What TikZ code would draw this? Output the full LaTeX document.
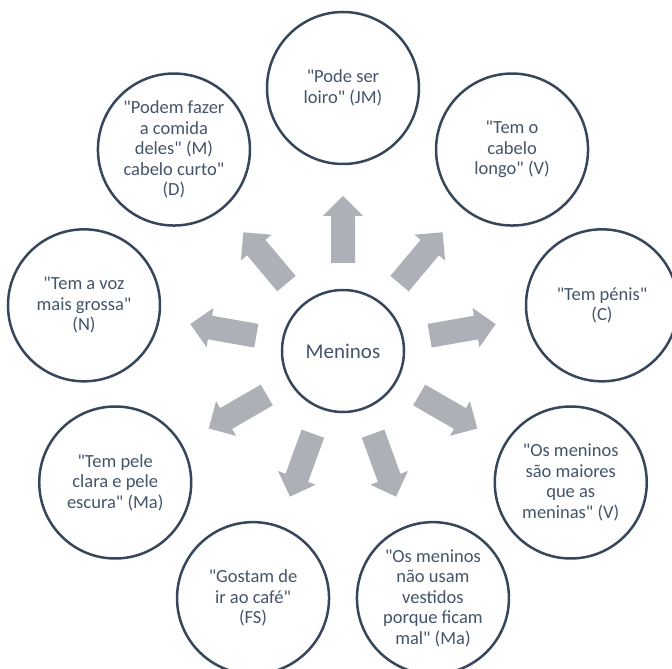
\documentclass[tikz,border=0pt]{standalone}
\usepackage{fontspec}
\setmainfont{Carlito}[Ligatures=TeXOff]

\begin{document}
\begin{tikzpicture}[x=1pt,y=1pt]
  \definecolor{kNavy}{HTML}{36475C}
  \definecolor{kText}{HTML}{44546A}
  \definecolor{kArrow}{HTML}{AEB0B7}
  \tikzset{
    idea/.style={circle,draw=kNavy,line width=2.5pt,fill=white,inner sep=0pt,
      minimum size=152pt,align=center,text=kText,
      font=\fontsize{18.5}{20.6}\selectfont},
    hub/.style={idea,minimum size=122pt,font=\fontsize{21}{24}\selectfont}
  }

  \useasboundingbox (-343,-318) rectangle (329,351);

  \node[hub] (meninos) at (0,0) {Meninos};

  \node[idea] (loiro)   at (90:263)   {"Pode ser\\loiro" (JM)};
  \node[idea] (longo)   at (50:263)   {"Tem o\\cabelo\\longo" (V)};
  \node[idea] (penis)   at (10:263)   {"Tem pénis"\\(C)};
  \node[idea] (maiores) at (-30:263)  {"Os meninos\\são maiores\\que as\\meninas" (V)};
  \node[idea] (vestido) at (-70:263)  {"Os meninos\\não usam\\vestidos\\porque ficam\\mal" (Ma)};
  \node[idea] (cafe)    at (-110:263) {"Gostam de\\ir ao café"\\(FS)};
  \node[idea] (pele)    at (-150:263) {"Tem pele\\clara e pele\\escura" (Ma)};
  \node[idea] (voz)     at (170:263)  {"Tem a voz\\mais grossa"\\(N)};
  \node[idea] (comida)  at (130:263)  {"Podem fazer\\a comida\\deles" (M)\\cabelo curto"\\(D)};

  \foreach \ang in {90,50,10,-30,-70,-110,-150,170,130}
  {
    \fill[color=kArrow,shift={(meninos.center)},rotate=\ang] (88,-12) -- (135,-12)
      -- (135,-20) -- (155,0) -- (135,20) -- (135,12) -- (88,12) -- cycle;
  }
\end{tikzpicture}
\end{document}
